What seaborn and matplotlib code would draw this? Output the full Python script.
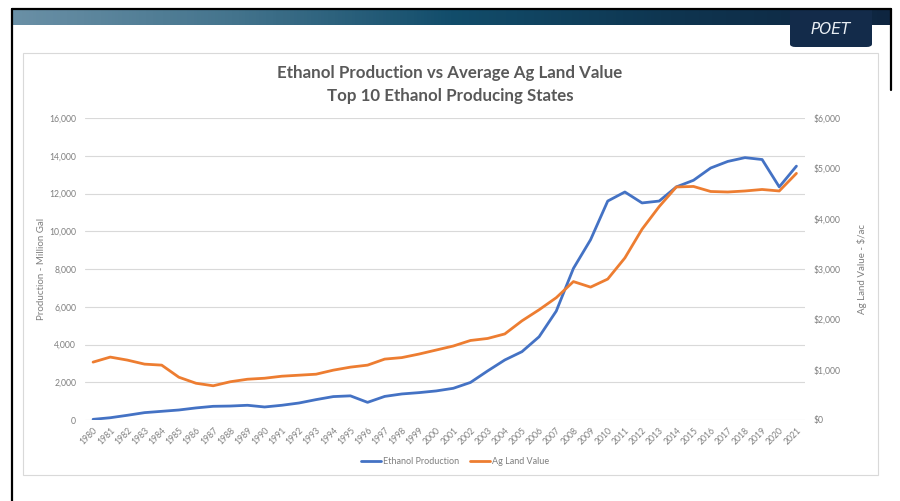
import numpy as np
import pandas as pd
import matplotlib
matplotlib.use('Agg')
import matplotlib.pyplot as plt
import seaborn as sns
from matplotlib.colors import LinearSegmentedColormap
from matplotlib.patches import Rectangle, FancyBboxPatch
from matplotlib.lines import Line2D
from matplotlib.ticker import FuncFormatter, MultipleLocator

# data
years = list(range(1980, 2022))
ethanol_mgal = [35, 120, 250, 390, 460, 530, 640, 725, 740, 780,
                690, 780, 900, 1080, 1240, 1280, 935, 1250, 1380, 1450,
                1540, 1680, 1990, 2600, 3180, 3620, 4410, 5770, 8030, 9550,
                11600, 12080, 11500, 11600, 12350, 12700, 13350, 13700, 13900, 13800,
                12350, 13450]
land_value = [1150, 1250, 1190, 1110, 1090, 850, 730, 680, 760, 810,
              830, 870, 890, 910, 990, 1050, 1090, 1210, 1240, 1310,
              1390, 1470, 1580, 1620, 1710, 1970, 2190, 2430, 2750, 2640,
              2800, 3220, 3790, 4240, 4630, 4640, 4540, 4530, 4550, 4580,
              4550, 4900]

df = pd.DataFrame({'year': years, 'ethanol': ethanol_mgal, 'land': land_value})
df['pos'] = np.arange(len(df))

BLUE = '#4472C4'
ORANGE = '#ED7D31'
GREY_TXT = '#7f7f7f'

sns.set_style('white')
plt.rcParams['font.family'] = ['Lato', 'DejaVu Sans']

W, H = 900, 501
fig = plt.figure(figsize=(9, 5.01), dpi=100)

def fx(px):
    return px / W

def fy(py):
    return 1 - py / H

# header gradient band
hax = fig.add_axes([fx(12), fy(25), fx(879), 16 / H])
cmap = LinearSegmentedColormap.from_list('hdr', ['#6a90a6', '#44748d', '#124d6b', '#0e3550', '#0e2540'])
hax.imshow(np.linspace(0, 1, 256)[None, :], aspect='auto', cmap=cmap)
hax.axis('off')

# POET tab
fig.patches.append(FancyBboxPatch((fx(790), fy(47)), fx(82), 39 / H,
                                  boxstyle='round,pad=0,rounding_size=0.006',
                                  transform=fig.transFigure, facecolor='#132b4a',
                                  edgecolor='none', zorder=5))
fig.patches.append(Rectangle((fx(790), fy(30)), fx(82), 22 / H, transform=fig.transFigure,
                             facecolor='#132b4a', edgecolor='none', zorder=5))
fig.text(fx(831), fy(30), 'POET', color='#e8eef4', fontsize=11, fontstyle='italic',
         ha='center', va='center', zorder=6, family=['DejaVu Sans'])

# black frame lines
for xs, ys in [([12, 891], [8.5, 8.5]), ([12, 12], [8.5, 501]), ([891, 891], [8.5, 90])]:
    fig.lines.append(Line2D([fx(v) for v in xs], [fy(v) for v in ys], transform=fig.transFigure,
                            color='black', lw=1.6, zorder=20))

# chart frame
fig.patches.append(Rectangle((fx(23), fy(475)), fx(855), 422 / H, transform=fig.transFigure,
                             facecolor='none', edgecolor='#d9d9d9', lw=0.8))

# main axes
ax = fig.add_axes([fx(84.5), fy(420), fx(720.5), 302 / H])
ax2 = ax.twinx()

sns.lineplot(data=df, x='pos', y='ethanol', ax=ax, color=BLUE, lw=2, legend=False, zorder=3)
sns.lineplot(data=df, x='pos', y='land', ax=ax2, color=ORANGE, lw=2, legend=False, zorder=3)

ax.set_xlim(-0.5, len(df) - 0.5)
ax.set_ylim(0, 16000)
ax2.set_ylim(0, 6000)
ax.yaxis.set_major_locator(MultipleLocator(2000))
ax2.yaxis.set_major_locator(MultipleLocator(1000))
ax.yaxis.set_major_formatter(FuncFormatter(lambda v, p: f'{int(v):,}'))
ax2.yaxis.set_major_formatter(FuncFormatter(lambda v, p: f'${int(v):,}'))

ax.set_xticks(df['pos'])
ax.set_xticklabels(df['year'], rotation=45, ha='right', rotation_mode='anchor')
ax.grid(axis='y', color='#d9d9d9', lw=0.8)
ax.set_axisbelow(True)

for a in (ax, ax2):
    for s in a.spines.values():
        s.set_visible(False)
    a.tick_params(length=0, labelsize=6.2, labelcolor=GREY_TXT, pad=6)
ax.tick_params(axis='x', pad=4)

ax.set_xlabel('')
ax.set_ylabel('Production - Million Gal', fontsize=7, color=GREY_TXT, labelpad=2)
ax2.set_ylabel('Ag Land Value - $/ac', fontsize=7, color=GREY_TXT, labelpad=12)

fig.text(0.5, fy(73), 'Ethanol Production vs Average Ag Land Value', ha='center', va='center',
         fontsize=12.2, fontweight='bold', color='#595959')
fig.text(0.5, fy(96), 'Top 10 Ethanol Producing States', ha='center', va='center',
         fontsize=12.2, fontweight='bold', color='#595959')

handles = [Line2D([0], [0], color=BLUE, lw=2), Line2D([0], [0], color=ORANGE, lw=2)]
fig.legend(handles, ['Ethanol Production', 'Ag Land Value'], loc='center',
           bbox_to_anchor=(fx(455), fy(462)), ncol=2, frameon=False, fontsize=6.5,
           labelcolor=GREY_TXT, handlelength=2.2, handletextpad=0.2, columnspacing=1.2)

fig.savefig('out.png', dpi=100)
